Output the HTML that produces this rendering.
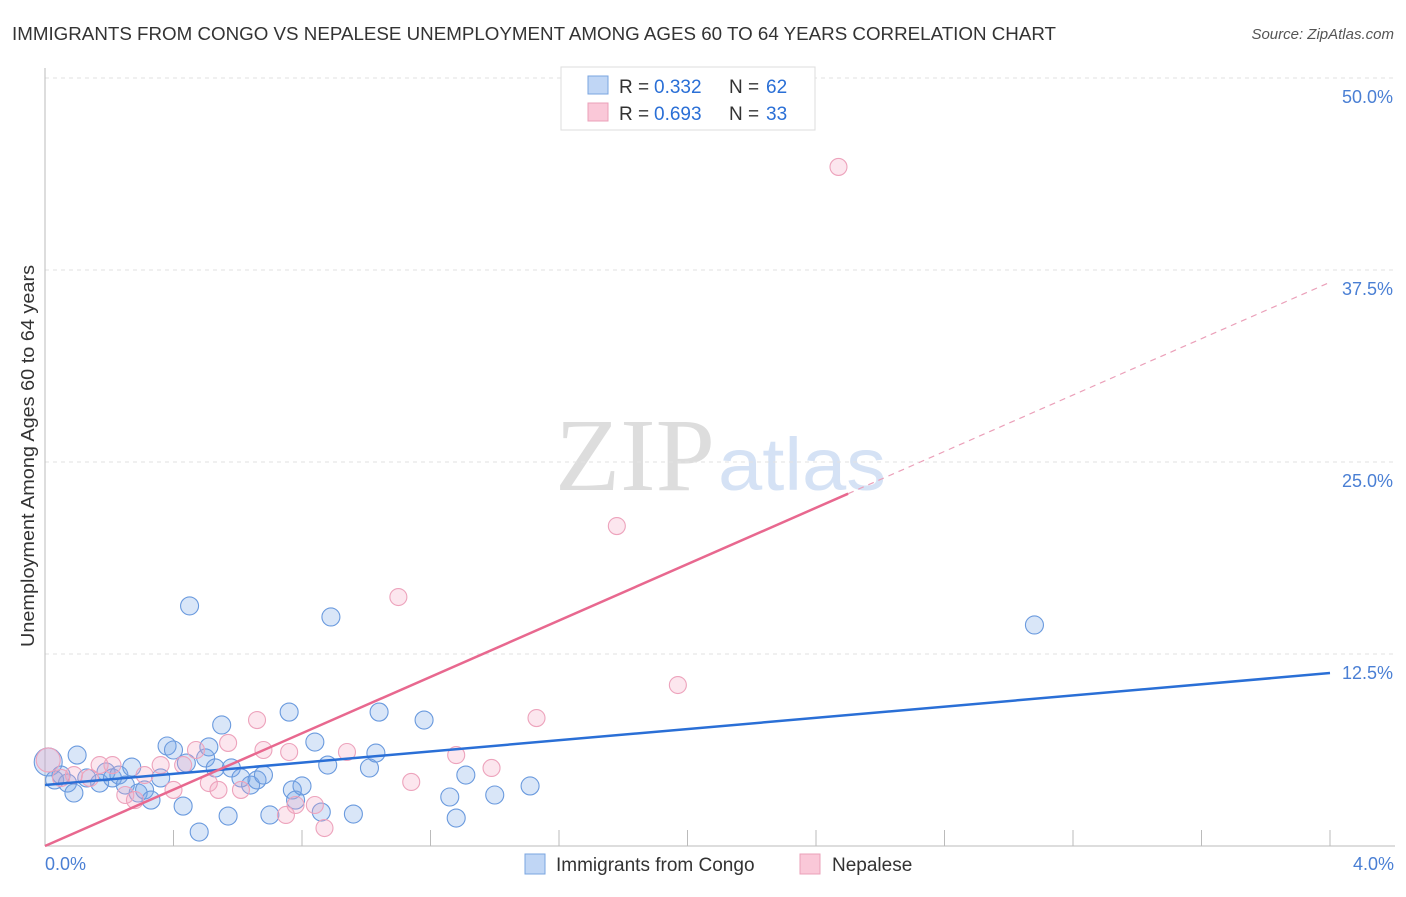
<!DOCTYPE html>
<html><head><meta charset="utf-8"><style>
body{margin:0;background:#fff;font-family:"Liberation Sans",sans-serif}
svg text{font-family:"Liberation Sans",sans-serif}
</style></head><body>
<svg width="1406" height="892" xmlns="http://www.w3.org/2000/svg">
<text x="12" y="40" font-size="18" fill="#333" textLength="1044" lengthAdjust="spacingAndGlyphs">IMMIGRANTS FROM CONGO VS NEPALESE UNEMPLOYMENT AMONG AGES 60 TO 64 YEARS CORRELATION CHART</text>
<text x="1394" y="39" font-size="15" fill="#555" font-style="italic" text-anchor="end">Source: ZipAtlas.com</text>
<text x="555" y="490" font-size="104" fill="#ddd" textLength="160" lengthAdjust="spacingAndGlyphs" style="font-family:'Liberation Serif',serif">ZIP</text>
<text x="718" y="490" font-size="74" fill="#d5e2f5" textLength="168" lengthAdjust="spacingAndGlyphs">atlas</text>
<g id="grid"></g>
<g id="axes"></g>
<g id="marks"></g>
<text transform="translate(34,456) rotate(-90)" font-size="18" fill="#333" text-anchor="middle" textLength="382" lengthAdjust="spacingAndGlyphs">Unemployment Among Ages 60 to 64 years</text>
<text x="45" y="870" font-size="18" fill="#4a7fd4">0.0%</text>
<text x="1394" y="870" font-size="18" fill="#4a7fd4" text-anchor="end">4.0%</text>
<g>
<rect x="561" y="67" width="254" height="63" fill="#fff" stroke="#ddd"/>
<rect x="588" y="76" width="20" height="18" fill="#c0d6f5" stroke="#7aa5e0"/>
<rect x="588" y="103" width="20" height="18" fill="#fac8d8" stroke="#eba0b9"/>
<text x="619" y="93" font-size="19" fill="#333">R =</text>
<text x="654" y="93" font-size="19" fill="#2a6fd6">0.332</text>
<text x="729" y="93" font-size="19" fill="#333">N =</text>
<text x="766" y="93" font-size="19" fill="#2a6fd6">62</text>
<text x="619" y="120" font-size="19" fill="#333">R =</text>
<text x="654" y="120" font-size="19" fill="#2a6fd6">0.693</text>
<text x="729" y="120" font-size="19" fill="#333">N =</text>
<text x="766" y="120" font-size="19" fill="#2a6fd6">33</text>
</g>
<g>
<rect x="525" y="854" width="20" height="20" fill="#c0d6f5" stroke="#7aa5e0"/>
<text x="556" y="871" font-size="19" fill="#333">Immigrants from Congo</text>
<rect x="800" y="854" width="20" height="20" fill="#fac8d8" stroke="#eba0b9"/>
<text x="832" y="871" font-size="19" fill="#333">Nepalese</text>
</g>
</svg>
<script>
const yTicks=[12.5,25,37.5,50];
const yTickLabels=["12.5%","25.0%","37.5%","50.0%"];
const xTicks=[0.4,0.8,1.2,1.6,2.0,2.4,2.8,3.2,3.6,4.0];
const congoX=[0.01,0.03,0.05,0.07,0.09,0.10,0.13,0.17,0.19,0.21,0.23,0.25,0.27,0.29,0.31,0.33,0.36,0.38,0.40,0.43,0.44,0.45,0.48,0.50,0.51,0.53,0.55,0.57,0.58,0.61,0.64,0.66,0.68,0.70,0.76,0.77,0.78,0.80,0.84,0.86,0.88,0.89,0.96,1.01,1.03,1.04,1.18,1.26,1.28,1.31,1.40,1.51,3.08];
const congoY=[5.47,4.30,4.62,4.10,3.45,5.92,4.43,4.10,4.82,4.43,4.62,3.97,5.14,3.45,3.65,2.99,4.43,6.51,6.25,2.60,5.40,15.63,0.91,5.73,6.45,5.08,7.88,1.95,5.08,4.43,3.97,4.30,4.62,2.02,8.72,3.65,2.99,3.91,6.77,2.21,5.27,14.91,2.08,5.08,6.05,8.72,8.20,3.19,1.82,4.62,3.32,3.91,14.39];
const nepX=[0.01,0.05,0.09,0.14,0.17,0.21,0.25,0.28,0.31,0.36,0.40,0.43,0.47,0.51,0.54,0.57,0.61,0.66,0.68,0.76,0.75,0.78,0.84,0.87,0.94,1.10,1.14,1.28,1.39,1.53,1.78,1.97,2.47];
const nepY=[5.60,4.43,4.62,4.43,5.27,5.27,3.32,2.99,4.62,5.27,3.65,5.27,6.25,4.10,3.65,6.71,3.65,8.20,6.25,6.12,2.02,2.67,2.67,1.17,6.12,16.21,4.17,5.92,5.08,8.33,20.83,10.48,44.21];
const congoLine=[3.97,11.26];
const nepLine=[0.0,36.7];
const nepSolidEnd=2.5;
const NS="http://www.w3.org/2000/svg";
const sx=v=>45+v*321.25, sy=v=>846-v*15.36;
function mk(t,a,p){const e=document.createElementNS(NS,t);for(const k in a)e.setAttribute(k,a[k]);p.appendChild(e);return e;}
const grid=document.getElementById('grid'),axes=document.getElementById('axes'),marks=document.getElementById('marks');
yTicks.forEach((t,i)=>{
 const l=mk('line',{x1:45,x2:1395,y1:sy(t),y2:sy(t),stroke:'#e2e2e2','stroke-dasharray':'4,4'},grid);
 
 
 const tx=mk('text',{x:1393,y:sy(t)+25,'font-size':18,fill:'#4a7fd4','text-anchor':'end'},axes);
 tx.textContent=yTickLabels[i];
 
 
});
let a=mk('line',{x1:45,x2:45,y1:68,y2:846,stroke:'#bbb'},axes);


a=mk('line',{x1:45,x2:1395,y1:846,y2:846,stroke:'#bbb'},axes);


xTicks.forEach(t=>{const l=mk('line',{x1:sx(t),x2:sx(t),y1:830,y2:846,stroke:'#bbb'},axes);
 
 });
congoX.forEach((x,i)=>{const c=mk('circle',{cx:sx(x),cy:sy(congoY[i]),r:i==0?14:9,fill:'rgba(120,165,230,0.28)',stroke:'#6a9ade','stroke-width':1.1},marks);
 
 });
nepX.forEach((x,i)=>{const c=mk('circle',{cx:sx(x),cy:sy(nepY[i]),r:i==0?12:8.5,fill:'rgba(245,165,195,0.28)',stroke:'#eda3bc','stroke-width':1.1},marks);
 
 });
let l=mk('line',{x1:sx(0),y1:sy(congoLine[0]),x2:sx(4),y2:sy(congoLine[1]),stroke:'#2a6fd6','stroke-width':2.5},marks);


const ny=x=>nepLine[0]+(nepLine[1]-nepLine[0])*x/4;
l=mk('line',{x1:sx(0),y1:sy(ny(0)),x2:sx(nepSolidEnd),y2:sy(ny(nepSolidEnd)),stroke:'#e8688f','stroke-width':2.5},marks);


l=mk('line',{x1:sx(nepSolidEnd),y1:sy(ny(nepSolidEnd)),x2:sx(4),y2:sy(ny(4)),stroke:'#eba0b9','stroke-width':1.2,'stroke-dasharray':'6,5'},marks);


</script>
</body></html>
